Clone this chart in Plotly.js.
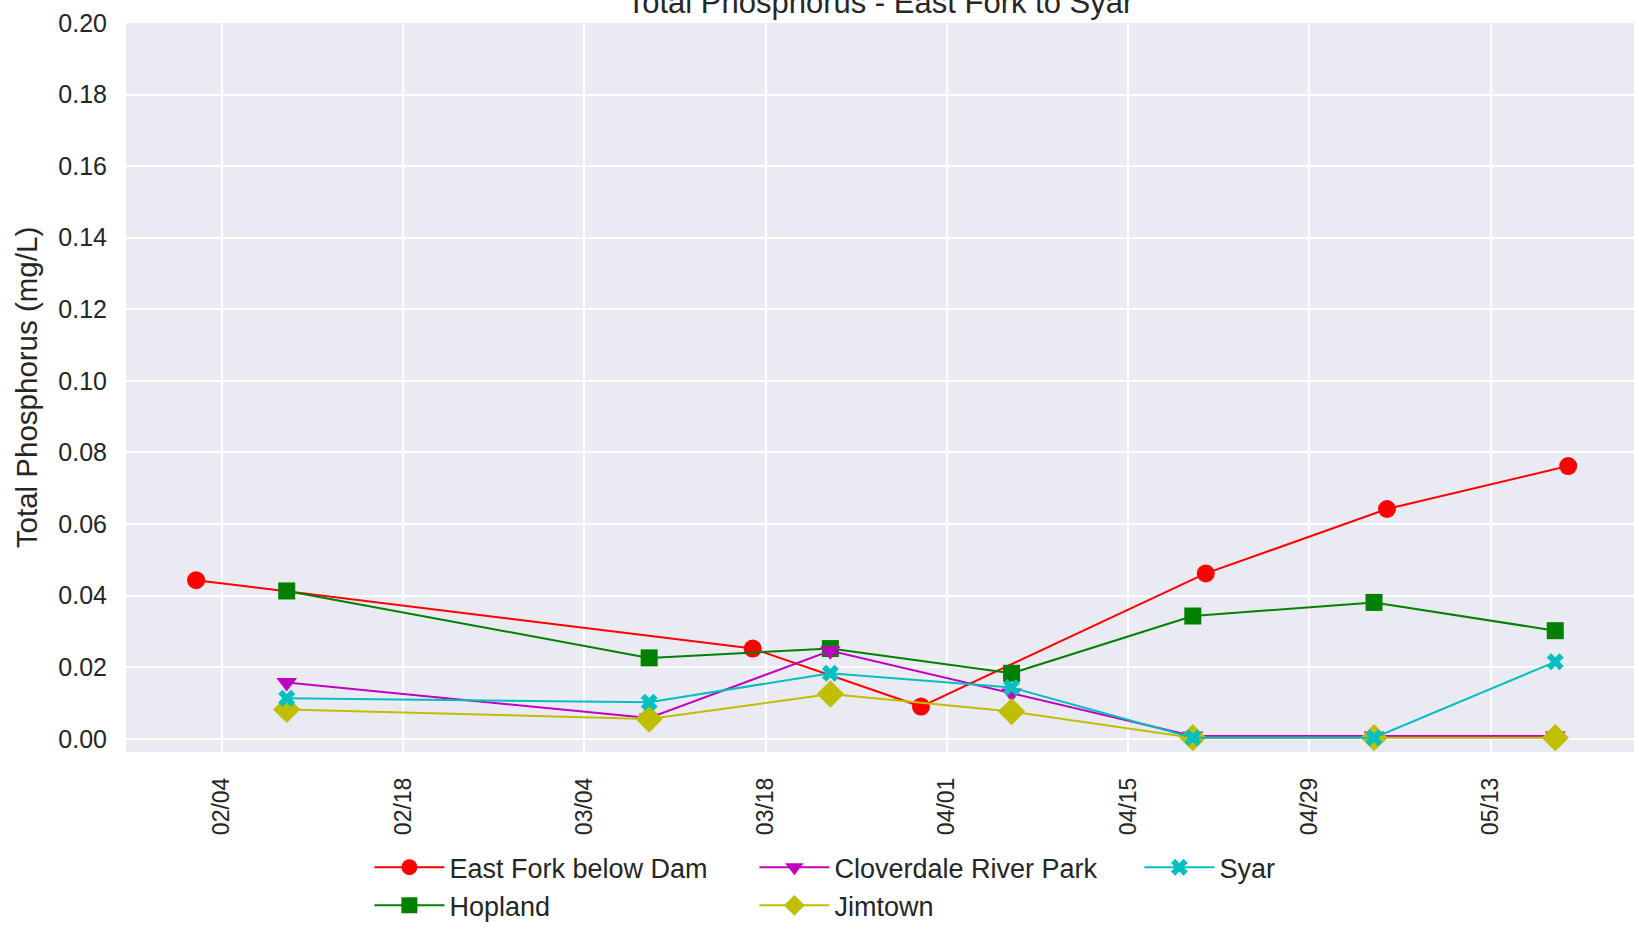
<!DOCTYPE html>
<html>
<head>
<meta charset="utf-8">
<script src="https://cdn.plot.ly/plotly-3.0.1.min.js"></script>
<style>
html,body{margin:0;padding:0;background:#fff;}
#chart{width:1634px;height:926px;}
</style>
</head>
<body>
<div id="chart"></div>
<script>
// Sampling dates
const eastForkDates = ['2017-02-02','2017-03-17','2017-03-30','2017-04-21','2017-05-05','2017-05-19'];
const siteDates = ['2017-02-09','2017-03-09','2017-03-23','2017-04-06','2017-04-20','2017-05-04','2017-05-18'];

// Total phosphorus values (mg/L)
const eastFork = [0.0443, 0.0252, 0.0090, 0.0462, 0.0642, 0.0762];
const hopland = [0.0413, 0.0226, 0.0252, 0.0183, 0.0343, 0.0381, 0.0302];
const cloverdale = [0.0157, 0.0058, 0.0246, 0.0128, 0.0008, 0.0008, 0.0008];
const jimtown = [0.0082, 0.0055, 0.0125, 0.0076, 0.0003, 0.0003, 0.0003];
const syar = [0.0113, 0.0102, 0.0183, 0.0143, 0.0003, 0.0003, 0.0215];

const yTickVals = [0, 0.02, 0.04, 0.06, 0.08, 0.10, 0.12, 0.14, 0.16, 0.18, 0.20];

const FONT = 'Liberation Sans, Arial, sans-serif';
const TXT = '#262626';

function tr(name, x, y, color, symbol, size, rank) {
  return {
    type: 'scatter', mode: 'lines+markers', name: name, x: x, y: y,
    line: {color: color, width: 2},
    marker: {color: color, symbol: symbol, size: size, line: {width: 0}},
    legendrank: rank
  };
}

const data = [
  tr('East Fork below Dam', eastForkDates, eastFork, '#ff0000', 'circle', 18, 1),
  tr('Hopland', siteDates, hopland, '#008000', 'square', 17, 4),
  tr('Cloverdale River Park', siteDates, cloverdale, '#bf00bf', 'triangle-down', 18, 2),
  tr('Jimtown', siteDates, jimtown, '#bfbf00', 'diamond', 21, 5),
  tr('Syar', siteDates, syar, '#00bfbf', 'x', 15, 3)
];

const layout = {
  width: 1634, height: 926,
  paper_bgcolor: '#ffffff',
  plot_bgcolor: '#eaeaf2',
  margin: {l: 126, r: 0, t: 23, b: 174, pad: 0, autoexpand: false},
  font: {family: FONT, color: TXT},
  title: {
    text: 'Total Phosphorus - East Fork to Syar',
    font: {family: FONT, size: 31, color: TXT},
    xref: 'paper', x: 0.5, xanchor: 'center',
    yref: 'paper', y: 1, yanchor: 'bottom',
    pad: {b: 10}
  },
  xaxis: {
    type: 'date',
    range: ['2017-01-27 14:00', '2017-05-24 02:00'],
    tick0: '2017-02-04', dtick: 14 * 86400000,
    tickformat: '%m/%d', tickangle: -90,
    tickfont: {family: FONT, size: 23, color: TXT},
    showgrid: true, gridcolor: '#ffffff', gridwidth: 2,
    zeroline: false, showline: false, ticks: '',
    ticklabelstandoff: 20
  },
  yaxis: {
    range: [-0.0037, 0.2],
    tickvals: yTickVals,
    tickformat: '.2f',
    tickfont: {family: FONT, size: 25, color: TXT},
    showgrid: true, gridcolor: '#ffffff', gridwidth: 2,
    zeroline: false, showline: false, ticks: '',
    ticklabelstandoff: 18,
    automargin: 'left',
    title: {text: 'Total Phosphorus (mg/L)', standoff: 12, font: {family: FONT, size: 29.5, color: TXT}}
  },
  showlegend: true,
  legend: {
    orientation: 'h',
    x: 0.1614, xanchor: 'left',
    y: -0.125, yanchor: 'top',
    font: {family: FONT, size: 27, color: TXT},
    entrywidth: 300, entrywidthmode: 'pixels',
    itemwidth: 70,
    tracegroupgap: 0,
    bgcolor: 'rgba(0,0,0,0)'
  }
};

Plotly.newPlot('chart', data, layout, {displayModeBar: false, staticPlot: true});
</script>
</body>
</html>
